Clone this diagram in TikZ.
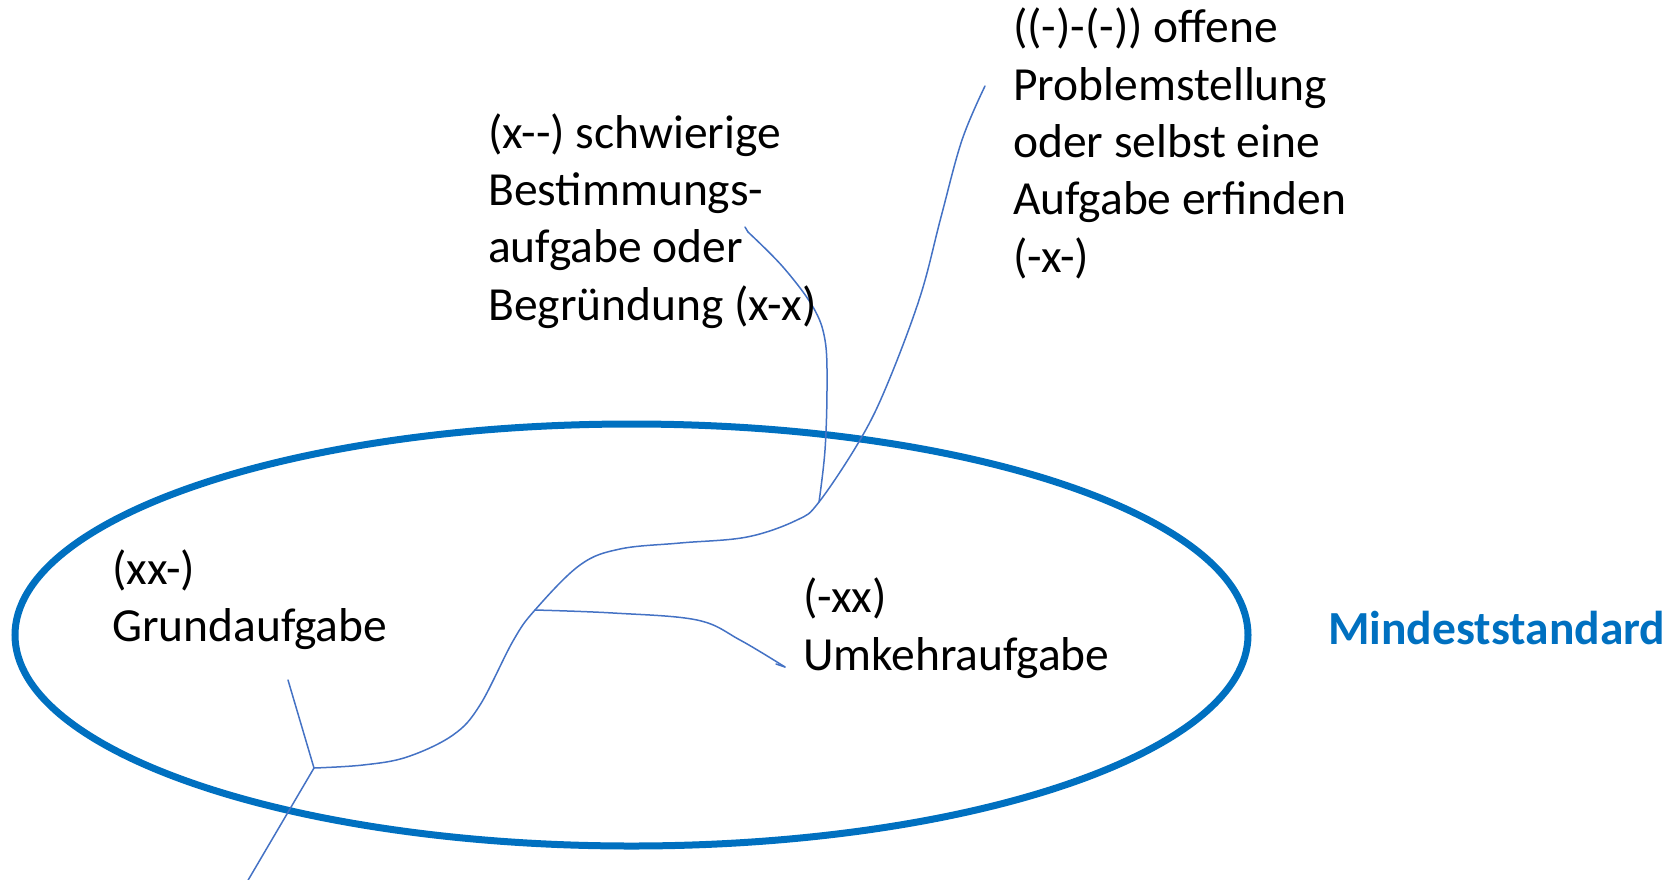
\documentclass[tikz,border=0pt]{standalone}
\usepackage{fontspec}
\setmainfont{Carlito}
\definecolor{ellblue}{HTML}{0070C0}
\definecolor{lineblue}{HTML}{4472C4}
\tikzset{
  lbl/.style={anchor=base west, inner sep=0pt, align=left, text=black,
    font=\fontsize{47.5}{57.3}\selectfont},
  title/.style={anchor=base west, inner sep=0pt, text=ellblue,
    font=\fontsize{47.5}{57.3}\selectfont\bfseries},
  branch/.style={draw=lineblue, line width=1.5pt, line join=round, line cap=round},
  ring/.style={draw=ellblue, line width=7pt}
}
\begin{document}
\begin{tikzpicture}[x=1pt,y=-1pt]
\useasboundingbox (0,0) rectangle (1675,879);
% ellipse
\draw[ring] (631.5,635) ellipse [x radius=616.5, y radius=211];
% coordinates
\coordinate (Bot) at (247,882);
\coordinate (Br) at (314,768);
\coordinate (GU) at (288,680);
\coordinate (J1) at (535,610);
\coordinate (J2) at (819,502);
\coordinate (Top) at (985,86);
\coordinate (BE) at (748,232);
\coordinate (UE) at (785,667);
% tree
\draw[branch] (Bot) -- (Br) -- (GU);
\draw[branch] plot[smooth, tension=0.6] coordinates {(Br) (363,765) (407,757) (453,735) (480,705) (513,641) (J1) (580,565) (620,549) (680,543) (747,537) (797,520) (J2) (860,440) (887,385) (920,297) (941,217) (962,140) (Top)};
\draw[branch] plot[smooth, tension=0.6] coordinates {(J2) (825,450) (827,387) (825,340) (813,307) (783,267) (BE)};
\draw[branch] (BE) -- ++(-3,-5);
\draw[branch] plot[smooth, tension=0.6] coordinates {(J1) (613,613) (697,620) (740,640) (UE)};
\draw[branch] (UE) -- ++(-9,-3);
% labels (anchor = baseline of the last line)
\node[lbl] (grund) at (112,641.5) {(xx-)\\Grundaufgabe};
\node[lbl] (umkehr) at (803,670) {(-xx)\\Umkehraufgabe};
\node[lbl] (bestimm) at (488,320) {(x-{}-) schwierige\\Bestimmungs-\\aufgabe oder\\Begründung (x-x)};
\node[lbl] (offen) at (1013,272) {((-)-(-)) offene\\Problemstellung\\oder selbst eine\\Aufgabe erfinden\\(-x-)};
\node[title] (mind) at (1328,644) {Mindeststandard};
\end{tikzpicture}
\end{document}
